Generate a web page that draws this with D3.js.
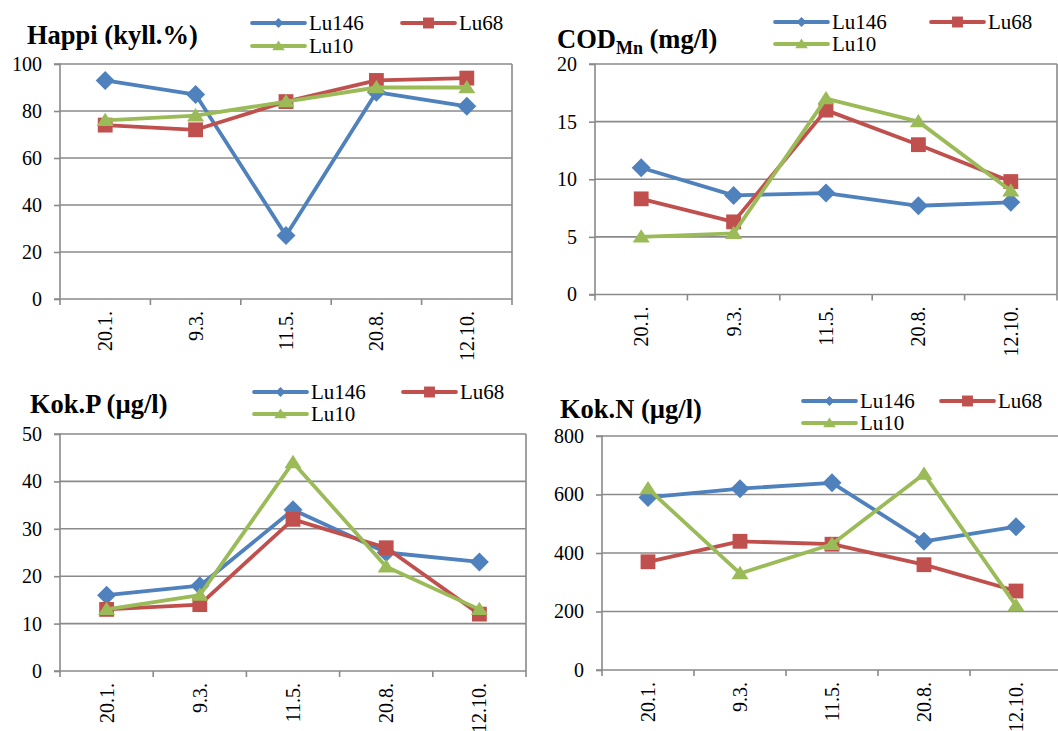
<!DOCTYPE html>
<html>
<head>
<meta charset="utf-8">
<script src="https://cdn.jsdelivr.net/npm/d3@7"></script>
<style>
  html, body { margin: 0; padding: 0; background: #fff; }
  svg { display: block; }
  svg text { font-family: "Liberation Serif", "Tinos", "Times New Roman", "Noto Serif", "DejaVu Serif", serif !important; fill: #000; }
</style>
</head>
<body>
<svg id="chart" width="1058" height="731"></svg>
<script>
// ---------- DATA ----------
const categories = ["20.1.", "9.3.", "11.5.", "20.8.", "12.10."];
const seriesNames = ["Lu146", "Lu68", "Lu10"];

const happiLu146 = [93, 87, 27, 88, 82];
const happiLu68  = [74, 72, 84, 93, 94];
const happiLu10  = [76, 78, 84, 90, 90];
const happiTicks = [0, 20, 40, 60, 80, 100];

const codLu146 = [11, 8.6, 8.8, 7.7, 8.0];
const codLu68  = [8.3, 6.3, 16, 13, 9.8];
const codLu10  = [5.0, 5.3, 17, 15, 9.0];
const codTicks = [0, 5, 10, 15, 20];

const kokPLu146 = [16, 18, 34, 25, 23];
const kokPLu68  = [13, 14, 32, 26, 12];
const kokPLu10  = [13, 16, 44, 22, 13];
const kokPTicks = [0, 10, 20, 30, 40, 50];

const kokNLu146 = [590, 620, 640, 440, 490];
const kokNLu68  = [370, 440, 430, 360, 270];
const kokNLu10  = [620, 330, 430, 670, 220];
const kokNTicks = [0, 200, 400, 600, 800];

// ---------- STYLE ----------
const colors = ["#4F81BD", "#C0504D", "#9BBB59"];
const shapes = ["diamond", "square", "triangle"];
const gridColor = "#8a8a8a";
const FONT = "'Liberation Serif', 'Tinos', 'Times New Roman', 'DejaVu Serif', serif";

// ---------- PANELS ----------
const panels = [
  { title: [["Happi (kyll.%)", false]], data: [happiLu146, happiLu68, happiLu10], ticks: happiTicks,
    box: {l: 60, r: 512, t: 64, b: 299}, titlePos: {x: 27, y: 44},
    legend: {x1: 252, x2: 402, y1: 23, y2: 46} },
  { title: [["COD", false], ["Mn", true], [" (mg/l)", false]], data: [codLu146, codLu68, codLu10], ticks: codTicks,
    box: {l: 595, r: 1057, t: 64, b: 294.5}, titlePos: {x: 557, y: 48},
    legend: {x1: 775, x2: 931, y1: 22, y2: 44} },
  { title: [["Kok.P (µg/l)", false]], data: [kokPLu146, kokPLu68, kokPLu10], ticks: kokPTicks,
    box: {l: 60, r: 526, t: 434, b: 671}, titlePos: {x: 30, y: 413},
    legend: {x1: 254, x2: 403, y1: 392, y2: 414} },
  { title: [["Kok.N (µg/l)", false]], data: [kokNLu146, kokNLu68, kokNLu10], ticks: kokNTicks,
    box: {l: 602, r: 1062, t: 436, b: 670}, titlePos: {x: 560, y: 418},
    legend: {x1: 803, x2: 941, y1: 401, y2: 423} }
];

const svg = d3.select("#chart");
svg.append("rect").attr("width", 1058).attr("height", 731).attr("fill", "#fff");

function markerPath(shape, s) {
  if (shape === "diamond") return `M0,${-s}L${s},0L0,${s}L${-s},0Z`;
  if (shape === "square") return `M${-s*0.78},${-s*0.78}H${s*0.78}V${s*0.78}H${-s*0.78}Z`;
  const w = s * 0.9, h = s * 0.8;
  return `M0,${-h}L${w},${h*0.75}L${-w},${h*0.75}Z`;
}

panels.forEach(p => {
  const g = svg.append("g");
  const b = p.box;
  const x = d3.scaleBand().domain(categories).range([b.l, b.r]);
  const yMax = d3.max(p.ticks);
  const y = d3.scaleLinear().domain([0, yMax]).range([b.b, b.t]);

  g.selectAll(".grid").data(p.ticks.filter(t => t > 0)).enter().append("line")
    .attr("x1", b.l).attr("x2", b.r)
    .attr("y1", d => y(d)).attr("y2", d => y(d))
    .attr("stroke", gridColor).attr("stroke-width", 1.6);
  g.append("line").attr("x1", b.r).attr("x2", b.r).attr("y1", b.t).attr("y2", b.b)
    .attr("stroke", gridColor).attr("stroke-width", 1.6);

  const yAxis = d3.axisLeft(y).tickValues(p.ticks).tickSize(6).tickPadding(12).tickFormat(d3.format("d"));
  const ya = g.append("g").attr("transform", `translate(${b.l},0)`).call(yAxis)
    .attr("font-family", FONT).attr("font-size", 20);
  ya.select(".domain").attr("stroke", gridColor).attr("stroke-width", 1.6)
    .attr("d", `M-6,${b.b}H0V${b.t}H-6`);
  ya.selectAll(".tick line").attr("stroke", gridColor).attr("stroke-width", 1.6);
  ya.selectAll(".tick text").style("font-size", "20px");

  const xa = g.append("g").attr("transform", `translate(0,${b.b})`);
  xa.append("line").attr("x1", b.l).attr("x2", b.r).attr("y1", 0).attr("y2", 0)
    .attr("stroke", gridColor).attr("stroke-width", 1.6);
  const bounds = categories.map(c => x(c)).concat([b.r]);
  xa.selectAll(".xt").data(bounds).enter().append("line")
    .attr("x1", d => d).attr("x2", d => d).attr("y1", 0).attr("y2", 6)
    .attr("stroke", gridColor).attr("stroke-width", 1.6);
  xa.selectAll(".xl").data(categories).enter().append("text")
    .attr("transform", d => `translate(${x(d) + x.bandwidth() / 2},12) rotate(-90)`)
    .attr("text-anchor", "end").attr("dy", "0.35em")
    .style("font-size", "20px").text(d => d);

  const line = d3.line().x((d, i) => x(categories[i]) + x.bandwidth() / 2).y(d => y(d));
  p.data.forEach((vals, si) => {
    const sg = g.append("g");
    sg.append("path").attr("d", line(vals)).attr("fill", "none")
      .attr("stroke", colors[si]).attr("stroke-width", 3.8).attr("stroke-linejoin", "round");
    sg.selectAll("path.m").data(vals).enter().append("path").attr("class", "m")
      .attr("transform", (d, i) => `translate(${x(categories[i]) + x.bandwidth() / 2},${y(d)})`)
      .attr("d", markerPath(shapes[si], shapes[si] === "diamond" ? 9.5 : (shapes[si] === "square" ? 9.5 : 9.5)))
      .attr("fill", colors[si]);
  });

  const t = g.append("text").attr("x", p.titlePos.x).attr("y", p.titlePos.y)
    .style("font-size", "26.5px").style("font-weight", "bold");
  p.title.forEach(([txt, sub]) => {
    const ts = t.append("tspan").text(txt);
    if (sub) ts.style("font-size", "18px").attr("dy", 6);
    else if (txt.startsWith(" ")) ts.attr("dy", -6);
  });

  const L = p.legend;
  const items = [{x: L.x1, y: L.y1}, {x: L.x2, y: L.y1}, {x: L.x1, y: L.y2}];
  items.forEach((it, si) => {
    const lg = g.append("g").attr("transform", `translate(${it.x},${it.y})`);
    lg.append("line").attr("x1", 0).attr("x2", 53).attr("y1", 0).attr("y2", 0)
      .attr("stroke", colors[si]).attr("stroke-width", 3.8).attr("stroke-linecap", "round");
    lg.append("path").attr("transform", "translate(26.5,0)")
      .attr("d", markerPath(shapes[si], si === 0 ? 5 : 7))
      .attr("fill", colors[si]);
    lg.append("text").attr("x", 57).attr("y", 0).attr("dy", "0.35em")
      .style("font-size", "21px").text(seriesNames[si]);
  });
});
</script>
</body>
</html>
